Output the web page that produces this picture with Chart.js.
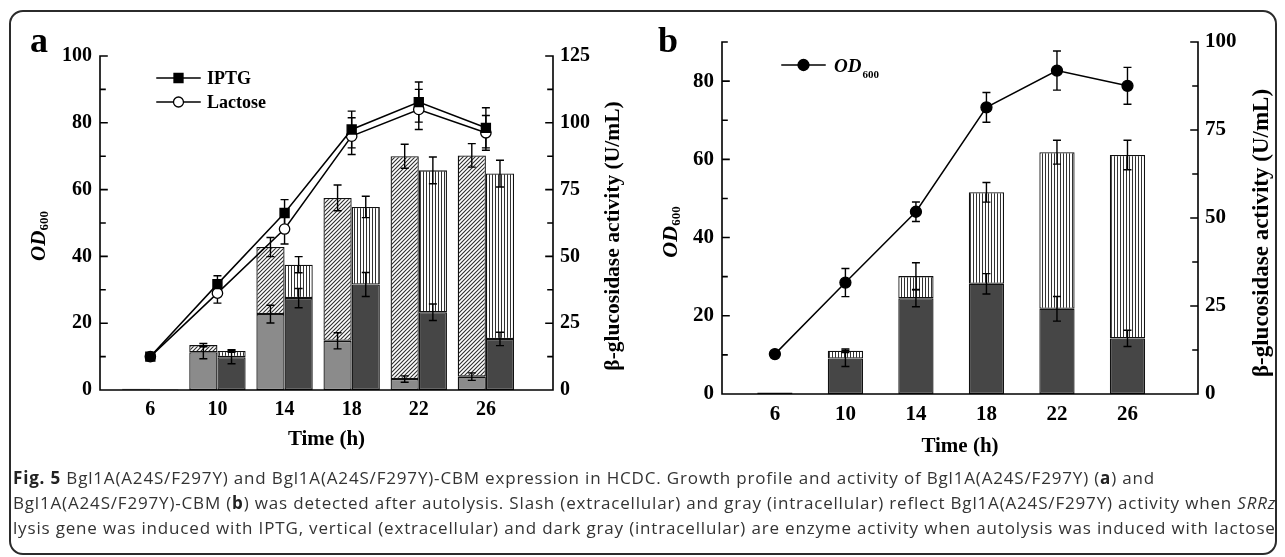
<!DOCTYPE html>
<html>
<head>
<meta charset="utf-8">
<script src="https://cdn.jsdelivr.net/npm/chart.js@4.4.1/dist/chart.umd.min.js"></script>
<style>
  body { margin: 0; background: #fff; width: 1285px; height: 557px; overflow: hidden; position: relative; }
  #frame { position: absolute; left: 9px; top: 10px; width: 1264px; height: 541px; border: 2px solid #2b2b2b; border-radius: 14px; }
  #ca { position: absolute; left: 0; top: 0; }
  #cb { position: absolute; left: 640px; top: 0; }
  #cap { position: absolute; left: 13px; top: 465px; font-family: "Open Sans", sans-serif; font-size: 17px; line-height: 25px; color: #333; white-space: nowrap; }
  #cap b { color: #222; }
</style>
</head>
<body>
<div id="frame"></div>
<canvas id="ca" width="640" height="470" style="width:640px;height:470px"></canvas>
<canvas id="cb" width="645" height="470" style="width:645px;height:470px"></canvas>
<div id="cap">
  <div class="ln"><b>Fig. 5</b> Bgl1A(A24S/F297Y) and Bgl1A(A24S/F297Y)-CBM expression in HCDC. Growth profile and activity of Bgl1A(A24S/F297Y) (<b>a</b>) and</div>
  <div class="ln">Bgl1A(A24S/F297Y)-CBM (<b>b</b>) was detected after autolysis. Slash (extracellular) and gray (intracellular) reflect Bgl1A(A24S/F297Y) activity when <i>SRRz</i></div>
  <div class="ln" id="ln3">lysis gene was induced with IPTG, vertical (extracellular) and dark gray (intracellular) are enzyme activity when autolysis was induced with lactose</div>
</div>
<script>
// ---- data ----
const hours = [6, 10, 14, 18, 22, 26];

// panel a : OD600 (left axis)
const iptgOD     = [10, 31.7, 53, 78, 86.2, 78.5];
const iptgODErr  = [1, 2.5, 4, 5.5, 6, 6];
const lacOD      = [10, 29, 48.2, 76, 84, 77];
const lacODErr   = [1, 3, 4.5, 5.5, 6, 5.2];
// panel a : activity U/mL (right axis)
const iptgIntra    = [0.3, 14.1, 28.4, 18.4, 4.1, 5.0];
const iptgIntraErr = [0, 2.4, 3.3, 3.0, 1.2, 1.4];
const iptgExtra    = [0.2, 2.7, 25.1, 53.5, 83.4, 82.8];
const iptgTotalErr = [0, 0.6, 3.6, 4.8, 4.5, 4.4];
const lacIntra     = [0.2, 12.3, 34.4, 39.5, 29.1, 19.1];
const lacIntraErr  = [0, 2.5, 3.6, 4.5, 3.1, 2.5];
const lacExtra     = [0.1, 2.3, 12.5, 29.0, 53.1, 61.9];
const lacTotalErr  = [0, 0.5, 3, 4, 5, 5];

// panel b
const cbmOD       = [10.2, 28.5, 46.6, 73.3, 82.7, 78.8];
const cbmODErr    = [0, 3.6, 2.5, 3.8, 5, 4.7];
const cbmIntra    = [0.3, 10.1, 27.2, 31.3, 24.2, 15.8];
const cbmIntraErr = [0, 2.3, 2.4, 2.9, 3.5, 2.3];
const cbmExtra    = [0.1, 2.2, 6.3, 26.0, 44.5, 52.1];
const cbmTotalErr = [0, 0.5, 3.8, 2.8, 3.4, 4.2];

// tick labels
const odTicksA   = [0, 20, 40, 60, 80, 100];
const odMinorA   = [10, 30, 50, 70, 90];
const actTicksA  = [0, 25, 50, 75, 100, 125];
const actMinorA  = [12.5, 37.5, 62.5, 87.5, 112.5];
const odTicksB   = [0, 20, 40, 60, 80];
const odMinorB   = [10, 30, 50, 70, 90];
const actTicksB  = [0, 25, 50, 75, 100];
const actMinorB  = [12.5, 37.5, 62.5, 87.5];

// ---- fill patterns ----
function slashPattern() {
  const c = document.createElement('canvas'); c.width = 4; c.height = 4;
  const g = c.getContext('2d');
  g.fillStyle = '#fff'; g.fillRect(0, 0, 4, 4);
  g.strokeStyle = '#2e2e2e'; g.lineWidth = 1.1;
  g.beginPath();
  g.moveTo(0, 4); g.lineTo(4, 0);
  g.moveTo(-1, 1); g.lineTo(1, -1);
  g.moveTo(3, 5); g.lineTo(5, 3);
  g.stroke();
  return g.createPattern(c, 'repeat');
}
function vertPattern() {
  const c = document.createElement('canvas'); c.width = 3; c.height = 3;
  const g = c.getContext('2d');
  g.fillStyle = '#fff'; g.fillRect(0, 0, 3, 3);
  g.fillStyle = '#333'; g.fillRect(0, 0, 1, 3);
  return g.createPattern(c, 'repeat');
}

const pts = arr => hours.map((h, i) => ({ x: h, y: arr[i] }));
const serif = 'Liberation Serif, Times New Roman, serif';

function barSet(vals, err, fill, stack, catPct) {
  return {
    type: 'bar', data: pts(vals), err: err, yAxisID: 'y1', stack: stack,
    backgroundColor: fill, borderColor: '#111', borderWidth: 1.3, borderSkipped: false,
    barPercentage: 1, categoryPercentage: catPct, order: 2
  };
}
function lineSet(vals, err, style, radius, fill) {
  return {
    type: 'line', data: pts(vals), err: err, yAxisID: 'y',
    borderColor: '#000', borderWidth: 1.5, tension: 0,
    pointStyle: style, pointRadius: radius, pointBackgroundColor: fill,
    pointBorderColor: '#000', pointBorderWidth: 1.3, order: 0
  };
}

function drawErr(ctx, x, y, d, cap) {
  if (d < 0.5) return;
  ctx.beginPath();
  ctx.moveTo(x, y - d); ctx.lineTo(x, y + d);
  ctx.moveTo(x - cap, y - d); ctx.lineTo(x + cap, y - d);
  ctx.moveTo(x - cap, y + d); ctx.lineTo(x + cap, y + d);
  ctx.stroke();
}

function odTitle(ctx, x, y, size, sub) {
  ctx.save();
  ctx.translate(x, y); ctx.rotate(-Math.PI / 2);
  ctx.fillStyle = '#000'; ctx.textBaseline = 'alphabetic'; ctx.textAlign = 'left';
  ctx.font = 'italic bold ' + size + 'px ' + serif;
  const w1 = ctx.measureText('OD').width;
  ctx.font = 'bold ' + sub + 'px ' + serif;
  const w2 = ctx.measureText('600').width;
  const x0 = -(w1 + w2) / 2;
  ctx.font = 'italic bold ' + size + 'px ' + serif;
  ctx.fillText('OD', x0, 0);
  ctx.font = 'bold ' + sub + 'px ' + serif;
  ctx.fillText('600', x0 + w1, 3);
  ctx.restore();
}

function makeDeco(p) {
  return {
    id: 'deco',
    beforeDraw(chart) { chart.$errDone = false; },
    beforeDatasetDraw(chart, args) {
      if (args.meta.type !== 'line' || chart.$errDone) return;
      chart.$errDone = true;
      const ctx = chart.ctx;
      ctx.save();
      ctx.strokeStyle = '#000'; ctx.lineWidth = 1.4;
      chart.data.datasets.forEach((ds, i) => {
        if (!ds.err) return;
        const meta = chart.getDatasetMeta(i);
        const sc = chart.scales[ds.yAxisID];
        meta.data.forEach((el, j) => {
          const d = Math.abs(sc.getPixelForValue(0) - sc.getPixelForValue(ds.err[j]));
          drawErr(ctx, el.x, el.y, d, 4);
        });
      });
      ctx.restore();
    },
    afterDraw(chart) {
      const ctx = chart.ctx, a = chart.chartArea;
      const yl = chart.scales.y, yr = chart.scales.y1;
      ctx.save();
      ctx.strokeStyle = '#000'; ctx.lineWidth = 1.6; ctx.lineCap = 'square';
      ctx.beginPath();
      ctx.moveTo(a.left, yl.getPixelForValue(yl.max)); ctx.lineTo(a.left, a.bottom);
      ctx.lineTo(a.right, a.bottom); ctx.lineTo(a.right, yr.getPixelForValue(yr.max));
      // inward ticks
      p.odMajor.concat(p.odMinor).forEach(v => {
        const y = yl.getPixelForValue(v), len = p.odMajor.includes(v) ? 7 : 5;
        ctx.moveTo(a.left, y); ctx.lineTo(a.left + len, y);
      });
      p.actMajor.concat(p.actMinor).forEach(v => {
        const y = yr.getPixelForValue(v), len = p.actMajor.includes(v) ? 7 : 5;
        ctx.moveTo(a.right, y); ctx.lineTo(a.right - len, y);
      });
      ctx.stroke();

      ctx.fillStyle = '#000';
      // panel letter
      ctx.font = 'bold 36px ' + serif; ctx.textAlign = 'left'; ctx.textBaseline = 'alphabetic';
      ctx.fillText(p.letter, p.letterX, 52);
      // axis titles
      odTitle(ctx, p.odX, p.odY, p.odSize, p.odSub);
      ctx.save();
      ctx.translate(p.actX, p.actY); ctx.rotate(-Math.PI / 2);
      ctx.font = 'bold ' + p.actSize + 'px ' + serif; ctx.textAlign = 'center'; ctx.textBaseline = 'middle';
      ctx.fillText('\u03b2-glucosidase activity (U/mL)', 0, 0);
      ctx.restore();
      ctx.font = 'bold 21px ' + serif; ctx.textAlign = 'center'; ctx.textBaseline = 'middle';
      ctx.fillText('Time (h)', (a.left + a.right) / 2, p.timeY);

      // legend
      ctx.lineWidth = 1.5; ctx.textAlign = 'left'; ctx.textBaseline = 'alphabetic';
      p.legend.forEach(it => {
        ctx.beginPath(); ctx.moveTo(it.x0, it.y); ctx.lineTo(it.x1, it.y); ctx.stroke();
        const mx = (it.x0 + it.x1) / 2;
        ctx.beginPath();
        if (it.mark === 'rect') ctx.rect(mx - 4.5, it.y - 4.5, 9, 9);
        else ctx.arc(mx, it.y, it.r, 0, Math.PI * 2);
        ctx.fillStyle = it.fill; ctx.fill(); ctx.lineWidth = 1.3; ctx.stroke(); ctx.lineWidth = 1.5;
        ctx.fillStyle = '#000';
        if (it.od) {
          ctx.font = 'italic bold 19px ' + serif;
          ctx.fillText('OD', it.x1 + 9, it.y + 7);
          const w = ctx.measureText('OD').width;
          ctx.font = 'bold 11px ' + serif;
          ctx.fillText('600', it.x1 + 10 + w, it.y + 13);
        } else {
          ctx.font = 'bold 18px ' + serif;
          ctx.fillText(it.text, it.x1 + 7, it.y + 6);
        }
      });
      ctx.restore();
    }
  };
}

function makeChart(id, c) {
  const tickFont = { family: serif, weight: 'bold', size: c.tickSize };
  return new Chart(document.getElementById(id), {
    type: 'bar',
    data: { datasets: c.datasets },
    options: {
      responsive: false, animation: false, events: [],
      layout: { padding: { top: c.top, left: 0, right: 0, bottom: 0 } },
      plugins: { legend: { display: false }, tooltip: { enabled: false } },
      scales: {
        x: {
          type: 'linear', min: 3, max: 30, offset: false,
          grid: { display: false, drawTicks: false }, border: { display: false },
          afterBuildTicks: s => { s.ticks = hours.map(v => ({ value: v })); },
          afterFit: s => { s.height = c.xh; },
          ticks: { font: tickFont, color: '#000', padding: 8, autoSkip: false, maxRotation: 0 }
        },
        y: {
          position: 'left', min: 0, max: c.odMax,
          grid: { display: false, drawTicks: false }, border: { display: false },
          afterBuildTicks: s => { s.ticks = c.deco.odMajor.map(v => ({ value: v })); },
          afterFit: s => { s.width = c.left; },
          ticks: { font: tickFont, color: '#000', padding: 8 }
        },
        y1: {
          position: 'right', min: 0, max: c.actMax, stacked: true,
          grid: { display: false, drawTicks: false }, border: { display: false },
          afterBuildTicks: s => { s.ticks = c.deco.actMajor.map(v => ({ value: v })); },
          afterFit: s => { s.width = c.rightW; },
          ticks: { font: tickFont, color: '#000', padding: 7 }
        }
      }
    },
    plugins: [makeDeco(c.deco)]
  });
}

const slash = slashPattern();
const vert = vertPattern();

makeChart('ca', {
  top: 56, left: 100, rightW: 87, xh: 80, odMax: 100, actMax: 125, tickSize: 20,
  datasets: [
    lineSet(iptgOD, iptgODErr, 'rect', 6.4, '#000'),
    lineSet(lacOD, lacODErr, 'circle', 5.2, '#fff'),
    barSet(iptgIntra, iptgIntraErr, '#8b8b8b', 'iptg', 0.84),
    barSet(iptgExtra, iptgTotalErr, slash, 'iptg', 0.84),
    barSet(lacIntra, lacIntraErr, '#464646', 'lac', 0.84),
    barSet(lacExtra, lacTotalErr, vert, 'lac', 0.84)
  ],
  deco: {
    letter: 'a', letterX: 30,
    odMajor: odTicksA, odMinor: odMinorA, actMajor: actTicksA, actMinor: actMinorA,
    odX: 45, odY: 236, odSize: 21, odSub: 13,
    actX: 613, actY: 236, actSize: 21.5, timeY: 440,
    legend: [
      { x0: 157, x1: 200, y: 78, mark: 'rect', fill: '#000', text: 'IPTG' },
      { x0: 157, x1: 200, y: 102, mark: 'circle', r: 5, fill: '#fff', text: 'Lactose' }
    ]
  }
});

makeChart('cb', {
  top: 42, left: 82, rightW: 87, xh: 76, odMax: 90, actMax: 100, tickSize: 21,
  datasets: [
    lineSet(cbmOD, cbmODErr, 'circle', 5.5, '#000'),
    barSet(cbmIntra, cbmIntraErr, '#464646', 'cbm', 0.5),
    barSet(cbmExtra, cbmTotalErr, vert, 'cbm', 0.5)
  ],
  deco: {
    letter: 'b', letterX: 18,
    odMajor: odTicksB, odMinor: odMinorB, actMajor: actTicksB, actMinor: actMinorB,
    odX: 37, odY: 232, odSize: 22, odSub: 13,
    actX: 622, actY: 233, actSize: 23, timeY: 447,
    legend: [
      { x0: 142, x1: 185, y: 65, mark: 'circle', r: 5.5, fill: '#000', od: true }
    ]
  }
});

// stretch the caption lines to the reference width
const ln3 = document.getElementById('ln3');
const w3 = ln3.getBoundingClientRect().width;
const chars = ln3.textContent.length;
document.getElementById('cap').style.letterSpacing = ((1264 - w3) / chars).toFixed(3) + 'px';
</script>
</body>
</html>
